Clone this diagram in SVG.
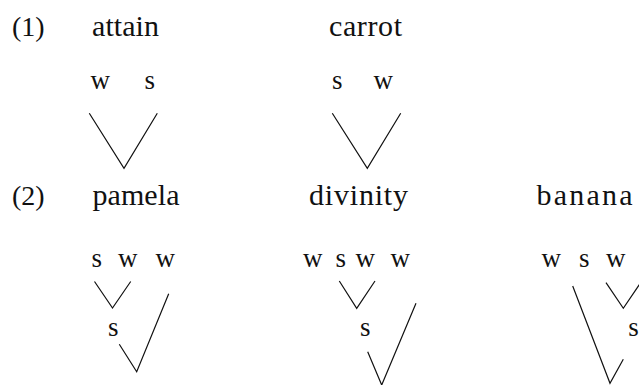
<svg xmlns="http://www.w3.org/2000/svg" width="639" height="385" viewBox="0 0 639 385">
<style>
text{font-family:'Liberation Serif','Times New Roman',Times,serif;fill:#111}
.word{font-size:30px}
.num{font-size:28px}
.lab{font-size:27px}
.edge{fill:none;stroke:#111;stroke-width:1.2;stroke-linejoin:miter}
</style>
<rect width="639" height="385" fill="#fff"/>
<g id="ex1-number"><text class="num" x="12" y="36">(1)</text></g>
<g id="attain">
  <text class="word" x="92" y="36" textLength="67">attain</text>
  <g id="attain-w"><text class="lab" x="90.5" y="89">w</text></g>
  <g id="attain-s"><text class="lab" x="144.5" y="89">s</text></g>
</g>
<g id="carrot">
  <text class="word" x="329" y="36" textLength="73">carrot</text>
  <g id="carrot-s"><text class="lab" x="332" y="89">s</text></g>
  <g id="carrot-w"><text class="lab" x="373.5" y="89">w</text></g>
</g>
<g id="ex2-number"><text class="num" x="12" y="205">(2)</text></g>
<g id="pamela">
  <text class="word" x="92.5" y="205" textLength="87">pamela</text>
  <g id="pamela-s1"><text class="lab" x="91.5" y="266.5">s</text></g>
  <g id="pamela-w2"><text class="lab" x="118" y="266.5">w</text></g>
  <g id="pamela-w3"><text class="lab" x="155.5" y="266.5">w</text></g>
  <g id="pamela-s-foot"><text class="lab" x="108" y="336">s</text></g>
</g>
<g id="divinity">
  <text class="word" x="309" y="205" textLength="99">divinity</text>
  <g id="divinity-w1"><text class="lab" x="303" y="266.5">w</text></g>
  <g id="divinity-s2"><text class="lab" x="335.5" y="266.5">s</text></g>
  <g id="divinity-w3"><text class="lab" x="355.5" y="266.5">w</text></g>
  <g id="divinity-w4"><text class="lab" x="390.5" y="266.5">w</text></g>
  <g id="divinity-s-foot"><text class="lab" x="360" y="336">s</text></g>
</g>
<g id="banana">
  <text class="word" x="536.5" y="205" textLength="96">banana</text>
  <g id="banana-w1"><text class="lab" x="541.5" y="266.5">w</text></g>
  <g id="banana-s2"><text class="lab" x="579" y="266.5">s</text></g>
  <g id="banana-w3"><text class="lab" x="606" y="266.5">w</text></g>
  <g id="banana-s-foot"><text class="lab" x="628.3" y="336">s</text></g>
</g>
<g id="connectors">
  <polyline class="edge" points="89.3,113.3 124,168.3 157.3,113.3"/>
  <polyline class="edge" points="332.3,113.3 367.3,168.3 400.7,113.3"/>
  <polyline class="edge" points="94.5,281.5 112.5,308 130.7,281.5"/>
  <polyline class="edge" points="119.3,344.3 136.7,371.7 168.7,293.8"/>
  <polyline class="edge" points="339.3,281 356.7,308.3 375,281"/>
  <polyline class="edge" points="367.7,351.7 381.7,385 416,303.3"/>
  <polyline class="edge" points="606,282.7 623.3,308.3 640.6,282.7"/>
  <polyline class="edge" points="572.7,286 610,383.3 623.3,359.3"/>
</g>
</svg>
